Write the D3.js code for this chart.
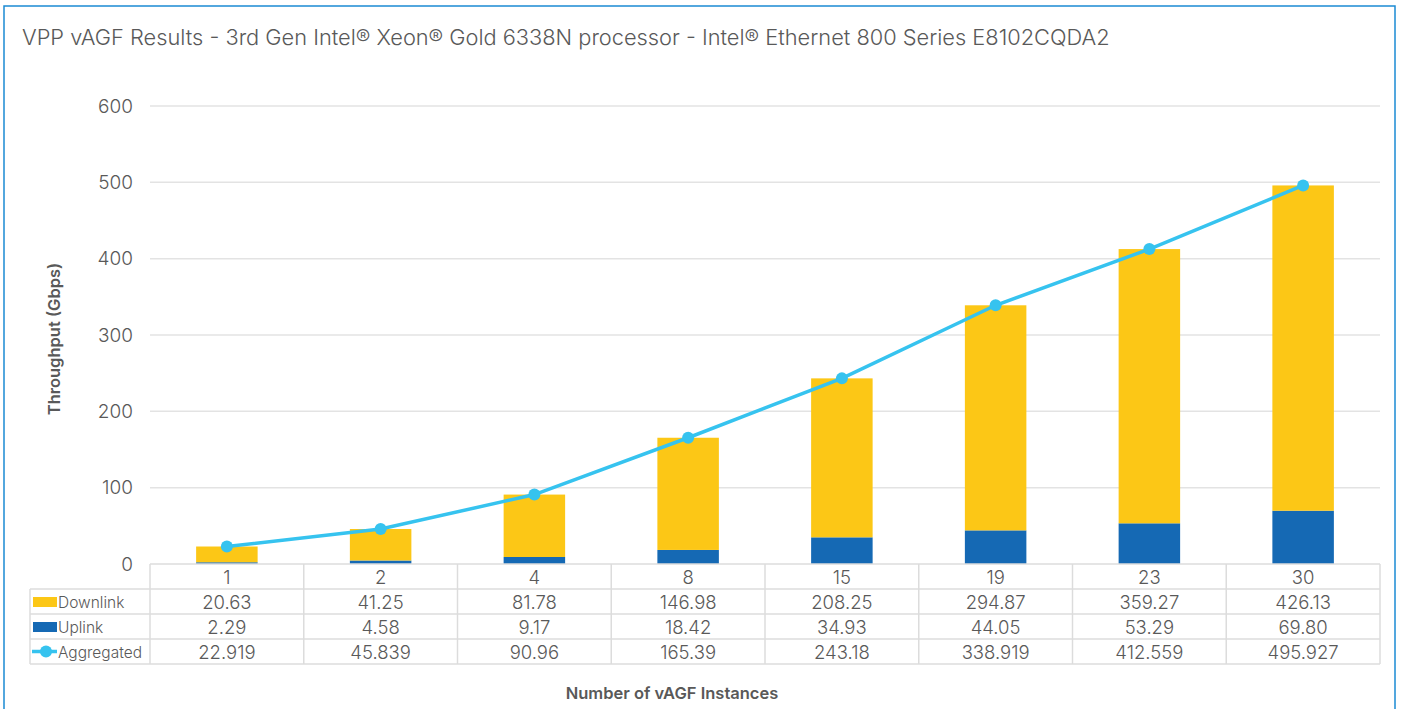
<!DOCTYPE html>
<html>
<head>
<meta charset="utf-8">
<script src="https://cdn.jsdelivr.net/npm/d3@7"></script>
<style>
  body { margin: 0; background: #fff; }
  svg { display: block; font-family: Inter, "Open Sans", sans-serif; }
  .grid line { stroke: #e3e3e3; stroke-width: 1.5; }
  .tbl line { stroke: #dcdcdc; stroke-width: 1.5; }
</style>
</head>
<body>
<svg id="chart" width="1401" height="709"></svg>
<script>
var instances = ["1", "2", "4", "8", "15", "19", "23", "30"];
var downlink = [20.63, 41.25, 81.78, 146.98, 208.25, 294.87, 359.27, 426.13];
var uplink = [2.29, 4.58, 9.17, 18.42, 34.93, 44.05, 53.29, 69.80];
var aggregated = [22.919, 45.839, 90.96, 165.39, 243.18, 338.919, 412.559, 495.927];
var downlinkLabels = ["20.63", "41.25", "81.78", "146.98", "208.25", "294.87", "359.27", "426.13"];
var uplinkLabels = ["2.29", "4.58", "9.17", "18.42", "34.93", "44.05", "53.29", "69.80"];
var aggLabels = ["22.919", "45.839", "90.96", "165.39", "243.18", "338.919", "412.559", "495.927"];
var yTicks = [0, 100, 200, 300, 400, 500, 600];

var yellow = "#fcc716",
    blue = "#1569b4",
    cyan = "#36c3ef",
    textCol = "#595959";

var svg = d3.select("#chart");

// outer frame
svg.append("rect")
  .attr("x", 4).attr("y", 6)
  .attr("width", 1391).attr("height", 710)
  .attr("fill", "none")
  .attr("stroke", "#1b8ad3")
  .attr("stroke-width", 1.5);

svg.append("text")
  .attr("x", 22).attr("y", 45)
  .attr("font-size", 21.8)
  .attr("font-weight", 300)
  .attr("fill", textCol)
  .text("VPP vAGF Results - 3rd Gen Intel® Xeon® Gold 6338N processor - Intel® Ethernet 800 Series E8102CQDA2");

var plotL = 150, plotR = 1380, plotT = 106, plotB = 564;

var x = d3.scaleBand()
  .domain(instances)
  .range([plotL, plotR])
  .paddingInner(0.6)
  .paddingOuter(0.3);

var xCol = d3.scaleBand()
  .domain(instances)
  .range([plotL, plotR]);

var y = d3.scaleLinear()
  .domain([0, 600])
  .range([plotB, plotT]);

// gridlines
svg.append("g")
  .attr("class", "grid")
  .selectAll("line")
  .data(yTicks.filter(function(d){ return d > 0; }))
  .join("line")
  .attr("x1", plotL).attr("x2", plotR)
  .attr("y1", function(d){ return y(d); })
  .attr("y2", function(d){ return y(d); });

// y axis labels
var yAxis = svg.append("g")
  .attr("transform", "translate(" + (plotL - 17) + ",0)")
  .call(d3.axisLeft(y).tickValues(yTicks).tickSize(0).tickPadding(0));
yAxis.select(".domain").remove();
yAxis.selectAll("text")
  .attr("font-size", 19)
  .attr("font-weight", 300)
  .attr("font-family", "Inter, 'Open Sans', sans-serif")
  .attr("fill", textCol);

svg.append("text")
  .attr("transform", "translate(60," + 339 + ") rotate(-90)")
  .attr("text-anchor", "middle")
  .attr("font-size", 16.5)
  .attr("font-weight", 600)
  .attr("fill", textCol)
  .text("Throughput (Gbps)");

// stacked bars
var bars = svg.append("g");
bars.selectAll("rect.up")
  .data(instances)
  .join("rect")
  .attr("class", "up")
  .attr("x", function(d){ return x(d); })
  .attr("width", x.bandwidth())
  .attr("y", function(d, i){ return y(uplink[i]); })
  .attr("height", function(d, i){ return y(0) - y(uplink[i]); })
  .attr("fill", blue);
bars.selectAll("rect.down")
  .data(instances)
  .join("rect")
  .attr("class", "down")
  .attr("x", function(d){ return x(d); })
  .attr("width", x.bandwidth())
  .attr("y", function(d, i){ return y(uplink[i] + downlink[i]); })
  .attr("height", function(d, i){ return y(uplink[i]) - y(uplink[i] + downlink[i]); })
  .attr("fill", yellow);

// aggregated line
var line = d3.line()
  .x(function(d, i){ return x(instances[i]) + x.bandwidth() / 2; })
  .y(function(d){ return y(d); });
svg.append("path")
  .datum(aggregated)
  .attr("d", line)
  .attr("fill", "none")
  .attr("stroke", cyan)
  .attr("stroke-width", 3.5);
svg.append("g")
  .selectAll("circle")
  .data(aggregated)
  .join("circle")
  .attr("cx", function(d, i){ return x(instances[i]) + x.bandwidth() / 2; })
  .attr("cy", function(d){ return y(d); })
  .attr("r", 6)
  .attr("fill", cyan);

// data table
var rowH = 25, tblLeft = 30;
var rows = [
  {name: "Downlink", labels: downlinkLabels},
  {name: "Uplink", labels: uplinkLabels},
  {name: "Aggregated", labels: aggLabels}
];
var tbl = svg.append("g").attr("class", "tbl");
// horizontal lines
tbl.append("line").attr("x1", plotL).attr("x2", plotR).attr("y1", plotB).attr("y2", plotB);
[1, 2, 3, 4].forEach(function(k){
  tbl.append("line")
    .attr("x1", tblLeft).attr("x2", plotR)
    .attr("y1", plotB + k * rowH).attr("y2", plotB + k * rowH);
});
// vertical lines
tbl.append("line").attr("x1", tblLeft).attr("x2", tblLeft)
  .attr("y1", plotB + rowH).attr("y2", plotB + 4 * rowH);
instances.forEach(function(d){
  tbl.append("line")
    .attr("x1", xCol(d)).attr("x2", xCol(d))
    .attr("y1", plotB).attr("y2", plotB + 4 * rowH);
});
tbl.append("line").attr("x1", plotR).attr("x2", plotR)
  .attr("y1", plotB).attr("y2", plotB + 4 * rowH);

// header row (categories)
tbl.selectAll("text.cat")
  .data(instances)
  .join("text")
  .attr("class", "cat")
  .attr("x", function(d){ return xCol(d) + xCol.bandwidth() / 2; })
  .attr("y", plotB + rowH / 2 + 7)
  .attr("text-anchor", "middle")
  .attr("font-size", 18.5)
  .attr("font-weight", 300)
  .attr("fill", textCol)
  .text(function(d){ return d; });

rows.forEach(function(r, k){
  var cy = plotB + (k + 1) * rowH + rowH / 2;
  tbl.selectAll("text.v" + k)
    .data(r.labels)
    .join("text")
    .attr("class", "v" + k)
    .attr("x", function(d, i){ return xCol(instances[i]) + xCol.bandwidth() / 2; })
    .attr("y", cy + 7)
    .attr("text-anchor", "middle")
    .attr("font-size", 18.5)
    .attr("font-weight", 300)
    .attr("fill", textCol)
    .text(function(d){ return d; });
  tbl.append("text")
    .attr("x", 58).attr("y", cy + 6)
    .attr("font-size", 15.5)
    .attr("font-weight", 300)
    .attr("fill", textCol)
    .text(r.name);
});

// legend keys
tbl.append("rect").attr("x", 33).attr("y", plotB + rowH + 8)
  .attr("width", 24).attr("height", 10).attr("fill", yellow);
tbl.append("rect").attr("x", 33).attr("y", plotB + 2 * rowH + 8)
  .attr("width", 24).attr("height", 10).attr("fill", blue);
tbl.append("line").attr("x1", 32).attr("x2", 57)
  .attr("y1", plotB + 3.5 * rowH).attr("y2", plotB + 3.5 * rowH)
  .style("stroke", cyan).style("stroke-width", 3.5);
tbl.append("circle").attr("cx", 46).attr("cy", plotB + 3.5 * rowH)
  .attr("r", 6).attr("fill", cyan);

svg.append("text")
  .attr("x", 672).attr("y", 699)
  .attr("text-anchor", "middle")
  .attr("font-size", 16.5)
  .attr("font-weight", 600)
  .attr("fill", textCol)
  .text("Number of vAGF Instances");
</script>
</body>
</html>
